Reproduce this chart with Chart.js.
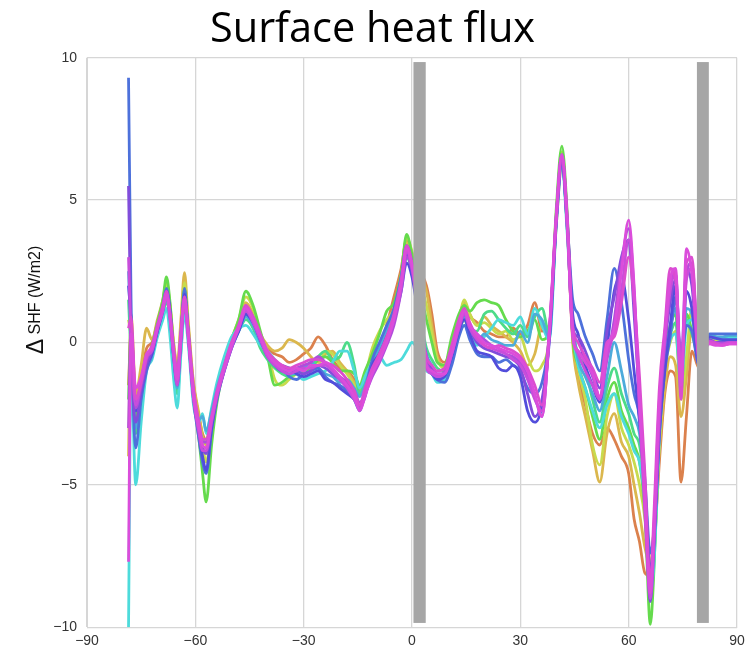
<!DOCTYPE html>
<html>
<head>
<meta charset="utf-8">
<script src="https://cdn.jsdelivr.net/npm/chart.js@4"></script>
<style>
  html, body { margin: 0; padding: 0; background: #fff; }
  #wrap { width: 745px; height: 656px; }
</style>
</head>
<body>
<div id="wrap"><canvas id="myChart"></canvas></div>
<script>
// latitude grid shared by all ensemble members
const latitude = [-78.5, -77.8, -76.5, -75, -73.5, -72, -70.5, -69, -68, -67, -66, -65, -64, -63, -62, -60.5, -59, -58, -57, -55.5,
  -54, -52, -50, -48, -46, -44, -42, -40, -38, -36, -34, -32, -30, -28, -26, -24, -22, -20, -18, -16,
  -14.5, -13, -11, -9, -7, -5, -3, -1.5, 0,
  4, 5.5, 7, 9, 11, 13, 14.5, 16, 18, 20, 22, 24, 26, 28, 30, 32, 34, 36, 38, 40,
  41.5, 43, 44.5, 46, 48, 50, 52, 54, 56, 58, 60, 61.5, 63, 64.5, 66, 67, 68.5, 70, 71.5, 73,
  74.5, 76, 77.5, 79.5, 82.5, 84, 86, 88, 90];

// delta SHF (W/m2), one array per member
const run01 = [-1.5, 0.4, -2.0, -1.2, -0.2, 0.0, 0.7, 1.4, 2.0, 1.2, -0.1, -0.9, 0.5, 2.0, 0.6, -1.5, -2.6, -3.2, -3.4, -2.5, -1.6, -0.8, 0.0, 0.6, 1.3, 1.0, 0.3, -0.2, -0.4, -0.5, -0.7, -0.6, -0.4, -0.2, 0.2, -0.1, -0.6, -0.9, -1.0, -1.3, -1.7, -1.4, -0.9, -0.3, 0.6, 1.6, 2.6, 3.6, 2.9,
  2.0, 1.0, -0.3, -0.7, -0.2, 0.6, 1.2, 0.9, 0.7, 0.4, 0.3, 0.2, 0.2, 0.5, 0.3, 0.6, 1.4, 0.4, 0.6, 4.2, 6.3, 4.0, 0.2, -1.2, -2.2, -3.2, -3.6, -3.0, -3.4, -4.0, -4.6, -6.2, -7.0, -8.1, -8.2, -7.2, -4.2, -1.8, -1.0, -1.2, -4.9, -2.6, -0.3, -0.9, 0.1, 0.05, 0.0, 0.05, 0.05];
const run02 = [-4.0, 1.0, -1.8, -0.8, 0.5, 0.1, 0.8, 1.5, 2.1, 1.3, 0.0, -0.8, 0.8, 2.45, 0.8, -1.4, -2.5, -3.3, -3.6, -2.6, -1.6, -0.7, 0.1, 0.7, 1.4, 1.0, 0.3, -0.1, -0.3, -0.2, 0.1, 0.0, -0.2, -0.5, -0.7, -0.4, -0.3, -0.7, -1.0, -1.4, -1.6, -1.3, -0.8, -0.5, 0.3, 1.2, 2.4, 3.5, 3.0,
  1.8, 0.6, -0.5, -0.8, 0.0, 0.9, 1.4, 1.0, 0.6, 0.9, 0.6, 0.4, 0.2, 0.0, -0.3, -0.8, -0.4, 0.6, 0.4, 4.4, 6.4, 4.1, 0.0, -1.4, -2.6, -3.8, -4.9, -3.2, -2.5, -3.5, -4.0, -5.0, -6.0, -7.2, -7.8, -6.5, -3.8, -1.6, -0.5, -0.8, -2.6, -1.2, 0.5, -0.7, 0.15, 0.1, 0.05, 0.1, 0.1];
const run03 = [0.8, 0.2, -2.2, -1.4, -0.5, -0.2, 0.6, 1.3, 2.0, 1.2, -0.2, -1.0, 0.4, 2.1, 0.6, -1.7, -2.9, -3.6, -4.2, -3.0, -1.9, -0.8, 0.1, 0.8, 1.6, 1.2, 0.3, -0.3, -1.3, -1.5, -1.3, -1.1, -1.0, -0.7, -0.8, -0.3, -0.4, -0.8, -1.1, -1.5, -1.8, -1.2, -0.2, 0.4, 0.8, 1.2, 2.3, 3.7, 3.2,
  1.3, 0.3, -0.6, -0.9, -0.2, 0.8, 1.5, 1.0, 0.6, 0.7, 0.5, 0.3, 0.4, 0.1, 0.2, -0.5, -1.0, -0.8, 0.2, 4.6, 6.7, 4.3, 0.3, -0.9, -2.0, -3.6, -4.3, -2.6, -1.8, -3.0, -3.6, -4.2, -5.0, -6.2, -8.5, -7.6, -3.6, -1.0, 0.0, 0.4, -2.0, -0.5, 1.2, -0.6, 0.2, 0.1, 0.05, 0.1, 0.1];
const run04 = [-2.0, 0.6, -2.6, -1.5, -0.6, -0.1, 0.7, 1.5, 2.3, 1.4, -0.2, -1.2, 0.3, 1.9, 0.5, -1.9, -3.4, -4.6, -5.6, -3.6, -2.1, -0.9, 0.1, 0.8, 1.8, 1.3, 0.4, -0.5, -1.5, -1.4, -1.2, -1.1, -1.0, -0.9, -0.6, -0.5, -0.7, -1.0, -1.0, -1.1, -1.5, -1.0, -0.4, 0.3, 1.1, 1.4, 2.4, 3.8, 3.1,
  0.8, 0.0, -0.7, -0.8, 0.2, 1.0, 1.3, 1.1, 1.4, 1.5, 1.4, 1.3, 0.8, 0.4, 0.2, 0.4, 0.8, 0.1, 0.4, 4.8, 6.9, 4.5, 0.2, -0.8, -1.6, -2.6, -3.4, -2.0, -1.4, -2.4, -3.0, -3.6, -4.2, -6.0, -9.9, -8.0, -3.0, -0.4, 0.6, 1.0, -1.8, 1.0, 0.4, -0.6, 0.2, 0.2, 0.1, 0.1, 0.1];
const run05 = [1.5, -0.5, -3.2, -1.8, -0.6, -0.4, 0.3, 0.9, 1.5, 0.7, -0.8, -1.8, -0.3, 1.2, 0.2, -2.0, -3.0, -3.4, -3.5, -2.6, -1.6, -0.7, 0.0, 0.4, 0.8, 0.5, -0.2, -0.6, -0.9, -1.1, -1.2, -1.0, -0.8, -0.9, -0.5, -0.3, -0.6, -0.5, 0.0, -0.8, -1.8, -1.3, -0.8, -0.3, 0.3, 1.0, 2.1, 3.0, 2.5,
  -0.2, -0.6, -0.9, -1.0, -0.4, 0.4, 0.8, 0.4, 0.4, 1.0, 1.1, 0.8, 0.5, 0.3, 0.6, 0.2, 0.9, 1.2, 0.3, 4.4, 6.4, 4.0, 0.6, -0.4, -0.9, -2.0, -2.8, -1.6, -0.9, -1.8, -2.5, -3.2, -3.6, -5.2, -8.2, -7.3, -2.8, -0.3, 0.3, 0.7, -1.0, 0.8, 0.3, -0.4, 0.25, 0.2, 0.15, 0.2, 0.2];
const run06 = [-10.0, -1.0, -5.0, -2.8, -1.0, -0.6, 0.2, 0.8, 1.2, 0.2, -1.3, -2.3, -0.4, 1.0, 0.0, -2.2, -2.8, -2.5, -3.2, -2.3, -1.4, -0.5, 0.2, 0.5, 0.6, 0.3, -0.1, -0.3, -0.6, -0.9, -1.0, -1.1, -1.3, -1.2, -1.1, -1.0, -0.7, -0.3, -0.3, -1.0, -1.6, -1.2, -0.7, -0.5, -0.8, -0.7, -0.6, -0.3, 0.0,
  -1.0, -1.1, -1.4, -1.3, -0.6, 0.3, 0.6, 0.2, -0.1, 0.2, 0.5, 0.8, 0.7, 0.6, 0.9, 0.3, 1.2, 0.6, 0.1, 4.2, 6.2, 3.8, 0.5, -0.8, -1.6, -2.4, -3.0, -2.2, -1.8, -2.6, -3.2, -3.8, -4.2, -5.6, -8.8, -7.8, -3.4, -0.8, 0.1, 0.3, -1.5, 0.6, 0.8, -0.5, 0.2, 0.15, 0.1, 0.15, 0.15];
const run07 = [2.5, 0.0, -3.0, -1.9, -0.9, -0.5, 0.4, 1.1, 1.6, 0.8, -0.6, -1.6, 0.0, 1.4, 0.3, -1.9, -2.7, -2.6, -3.1, -2.4, -1.6, -0.8, -0.1, 0.4, 0.9, 0.6, 0.0, -0.4, -0.8, -1.0, -1.1, -1.1, -0.9, -0.7, -0.9, -1.1, -1.2, -1.4, -1.3, -1.6, -1.9, -1.5, -0.7, -0.2, 0.4, 1.1, 2.3, 3.3, 2.7,
  -0.4, -0.8, -1.2, -1.2, -0.5, 0.5, 0.9, 0.5, 0.0, 0.3, 0.1, 0.0, -0.1, -0.1, 0.4, 0.0, 1.0, 0.8, 0.2, 4.5, 6.4, 4.0, 0.7, -0.6, -1.2, -1.8, -2.4, -1.2, 0.0, -1.0, -2.2, -2.6, -3.2, -5.0, -8.0, -7.2, -3.0, -0.6, 0.5, 1.2, -1.2, 1.2, 1.0, -0.6, 0.25, 0.2, 0.2, 0.25, 0.25];
const run08 = [9.3, 1.5, -3.7, -2.0, -1.0, -0.4, 0.5, 1.3, 1.9, 1.1, -0.5, -1.5, 0.1, 1.9, 0.4, -2.0, -3.4, -4.2, -4.6, -3.1, -2.0, -1.0, -0.2, 0.4, 1.0, 0.7, 0.1, -0.4, -0.8, -0.9, -1.2, -1.3, -1.1, -1.0, -0.9, -1.2, -1.4, -1.5, -1.7, -2.0, -2.4, -1.7, -0.6, 0.0, 0.6, 1.2, 2.3, 3.4, 2.8,
  -0.5, -1.0, -1.3, -1.4, -0.8, 0.2, 0.6, 0.1, -0.4, -0.5, -0.5, -0.7, -0.6, -0.8, -1.0, -1.6, -1.8, -1.4, 0.2, 4.4, 6.4, 4.2, 1.5, 1.0, 0.2, -0.4, -1.0, 0.8, 2.6, 1.4, -0.6, -1.8, -2.6, -4.8, -7.4, -6.6, -3.2, -1.0, 0.2, 1.6, -0.8, 0.6, 0.4, -0.8, 0.3, 0.3, 0.3, 0.3, 0.3];
const run09 = [2.0, 0.8, -2.4, -1.7, -0.8, -0.4, 0.4, 1.1, 1.8, 1.1, -0.4, -1.3, 0.2, 1.7, 0.4, -1.9, -3.2, -4.0, -4.5, -3.0, -1.9, -1.0, -0.2, 0.4, 1.0, 0.7, 0.1, -0.5, -0.8, -1.0, -0.9, -1.1, -1.2, -1.1, -1.0, -1.3, -1.4, -1.6, -1.8, -2.0, -2.3, -1.9, -0.8, -0.4, 0.2, 0.8, 1.8, 2.8, 2.3,
  -0.8, -1.1, -1.3, -1.2, -0.5, 0.4, 0.8, 0.3, -0.3, -0.4, -0.5, -0.9, -1.0, -0.8, -1.2, -2.4, -2.8, -2.2, 0.0, 4.3, 6.3, 4.1, 1.0, 0.3, -0.8, -1.5, -2.1, -0.2, 1.8, 2.3, 0.8, -1.0, -2.8, -5.2, -8.0, -7.0, -3.2, -1.0, 0.6, 2.0, -1.0, 1.8, 1.2, -0.8, 0.2, 0.15, 0.1, 0.1, 0.1];
const run10 = [5.5, 0.2, -2.8, -1.7, -0.8, -0.3, 0.4, 1.2, 1.7, 0.9, -0.5, -1.4, 0.1, 1.5, 0.3, -1.8, -3.0, -3.7, -3.9, -2.8, -1.8, -0.9, -0.1, 0.5, 1.1, 0.8, 0.2, -0.4, -0.7, -0.8, -0.9, -1.0, -1.1, -1.0, -0.8, -0.9, -1.1, -1.3, -1.5, -1.9, -2.3, -1.8, -1.0, -0.4, 0.2, 0.9, 2.0, 3.1, 2.5,
  -0.6, -0.9, -1.1, -1.1, -0.4, 0.5, 1.0, 0.5, 0.0, -0.2, -0.3, -0.4, -0.5, -0.6, -0.9, -1.8, -2.6, -2.0, 0.1, 4.5, 6.6, 4.3, 0.5, 0.2, -0.3, -1.0, -1.6, 0.4, 1.6, 3.0, 3.6, 1.0, -2.0, -5.4, -9.1, -7.2, -3.0, -0.2, 1.4, 2.2, -0.8, 2.6, 2.0, -0.7, 0.1, 0.0, 0.0, 0.0, 0.0];
const run11 = [-3.0, 0.6, -2.3, -1.5, -0.6, -0.2, 0.6, 1.2, 1.7, 1.0, -0.3, -1.2, 0.3, 1.6, 0.4, -1.7, -2.9, -3.5, -3.5, -2.7, -1.8, -0.9, -0.1, 0.6, 1.2, 0.9, 0.2, -0.4, -0.7, -0.9, -1.0, -0.9, -0.8, -0.7, -0.5, -0.7, -1.0, -1.2, -1.4, -1.7, -2.1, -1.8, -1.2, -0.7, -0.1, 0.6, 1.8, 3.0, 2.6,
  -0.7, -1.0, -1.2, -1.0, -0.2, 0.7, 1.1, 0.6, 0.3, 0.1, -0.1, -0.2, -0.4, -0.5, -0.7, -1.2, -1.9, -2.6, 0.3, 4.4, 6.5, 4.1, 0.3, -0.3, -0.6, -1.2, -1.9, -0.6, 0.8, 2.8, 4.0, 1.8, -2.2, -5.6, -8.6, -6.8, -2.6, 0.2, 2.2, 2.4, -1.3, 2.4, 2.8, -0.6, 0.0, -0.05, -0.05, 0.0, 0.0];
const run12 = [3.0, 0.1, -2.2, -1.3, -0.5, -0.3, 0.5, 1.2, 1.6, 0.8, -0.5, -1.5, 0.0, 1.4, 0.2, -2.0, -3.2, -3.8, -3.8, -2.8, -1.9, -1.0, -0.2, 0.5, 1.1, 0.7, 0.1, -0.5, -0.8, -1.0, -1.1, -1.0, -0.9, -0.9, -0.8, -0.8, -1.0, -1.3, -1.6, -2.0, -2.3, -1.8, -1.0, -0.5, 0.1, 0.9, 2.1, 3.2, 2.6,
  -0.9, -1.1, -1.2, -1.1, -0.4, 0.5, 1.0, 0.5, 0.1, -0.1, -0.2, -0.3, -0.4, -0.6, -0.8, -1.3, -2.0, -2.4, 0.2, 4.4, 6.5, 4.0, 0.3, -0.4, -1.0, -1.5, -2.0, -0.5, 0.4, 1.8, 3.6, 1.6, -2.4, -6.0, -9.0, -7.0, -2.4, 0.0, 1.8, 2.4, -1.0, 2.2, 2.6, -0.5, 0.05, 0.0, -0.05, 0.0, 0.0];
const run13 = [0.5, 0.9, -2.0, -1.4, -0.5, -0.1, 0.6, 1.3, 1.8, 1.0, -0.2, -1.0, 0.4, 1.6, 0.5, -1.6, -2.8, -3.4, -3.4, -2.6, -1.7, -0.8, 0.0, 0.6, 1.3, 0.9, 0.3, -0.3, -0.6, -0.8, -0.9, -0.8, -0.7, -0.6, -0.6, -0.7, -0.8, -1.0, -1.3, -1.7, -2.2, -1.6, -0.9, -0.4, 0.2, 1.0, 2.2, 3.4, 2.8,
  -0.5, -0.8, -1.0, -0.9, -0.1, 0.8, 1.2, 0.7, 0.2, -0.1, -0.2, -0.1, -0.2, -0.3, -0.5, -0.9, -1.5, -2.2, 0.4, 4.6, 6.6, 4.4, 0.6, 0.0, -0.5, -0.9, -1.4, 0.0, 0.2, 1.4, 3.0, 1.5, -1.2, -4.6, -8.5, -6.0, -1.6, 0.5, 2.6, 2.2, -2.0, 2.8, 3.0, -0.6, 0.0, -0.05, -0.1, -0.05, -0.05];
const run14 = [-7.7, 0.3, -1.6, -1.2, -0.4, -0.2, 0.5, 1.1, 1.7, 0.9, -0.4, -1.3, 0.2, 1.5, 0.3, -1.9, -3.0, -3.6, -3.7, -2.7, -1.8, -0.9, -0.1, 0.5, 1.2, 0.8, 0.2, -0.4, -0.7, -0.9, -1.0, -0.9, -1.0, -0.8, -0.8, -0.7, -0.9, -1.2, -1.5, -1.9, -2.4, -1.9, -1.1, -0.6, 0.0, 0.8, 2.0, 3.3, 2.7,
  -0.8, -1.0, -1.1, -1.1, -0.4, 0.6, 1.1, 0.6, 0.3, 0.0, -0.1, -0.2, -0.3, -0.4, -0.6, -1.0, -1.8, -2.6, 0.3, 4.5, 6.6, 4.2, 0.2, -0.3, -0.7, -1.1, -1.9, -0.2, 0.5, 2.5, 4.3, 2.0, -2.0, -5.5, -8.8, -6.5, -2.0, 0.3, 2.2, 2.6, -1.5, 3.3, 2.4, -0.4, -0.05, -0.1, -0.1, -0.05, -0.05];

const runs = [run01, run02, run03, run04, run05, run06, run07, run08, run09, run10, run11, run12, run13, run14];
const runHues = [22, 45, 68, 110, 145, 180, 200, 225, 242, 262, 282, 292, 305, 300];

// latitude bands masked in grey
const maskedBands = [[0.4, 3.8], [78.9, 82.2]];
const yTicks = [-10, -5, 0, 5, 10];
const xTicks = [-90, -60, -30, 0, 30, 60, 90];

const minus = v => (v < 0 ? '\u2212' + Math.abs(v) : '' + v);

const bandPlugin = {
  id: 'bands',
  afterDatasetsDraw(chart) {
    const {ctx, scales: {x, y}} = chart;
    ctx.save();
    ctx.fillStyle = '#a6a6a6';
    maskedBands.forEach(b => {
      const x0 = x.getPixelForValue(b[0]), x1 = x.getPixelForValue(b[1]);
      const y0 = y.getPixelForValue(9.85), y1 = y.getPixelForValue(-9.85);
      ctx.fillRect(x0, y0, x1 - x0, y1 - y0);
    });
    ctx.restore();
  }
};

// y label: big delta followed by smaller "SHF (W/m2)"
const yLabelPlugin = {
  id: 'ylabel',
  afterDraw(chart) {
    const c = chart.ctx;
    c.save();
    c.translate(36, 300);
    c.rotate(-Math.PI / 2);
    c.fillStyle = '#111';
    c.textBaseline = 'middle';
    c.font = '23px "Liberation Sans"';
    const dw = c.measureText('\u0394').width;
    c.font = '16px "Liberation Sans"';
    const tw = c.measureText(' SHF (W/m2)').width;
    let x0 = -(dw + tw) / 2;
    c.font = '23px "Liberation Sans"';
    c.fillText('\u0394', x0, 1);
    c.font = '16px "Liberation Sans"';
    c.fillText(' SHF (W/m2)', x0 + dw, 0);
    c.restore();
  }
};

window.addEventListener('load', function(){
  let ctx = document.getElementById('myChart');
  let datasets = runs.map((r, i) => ({
    data: latitude.map((lat, j) => ({x: lat, y: r[j]})),
    borderColor: `hsl(${runHues[i]}, 66%, 58%)`,
    borderWidth: 2.8,
    pointRadius: 0,
    cubicInterpolationMode: 'monotone',
    order: runs.length - i,
    fill: false
  }));

  new Chart(ctx, {
    type: 'line',
    data: { datasets: datasets },
    options: {
      responsive: true,
      maintainAspectRatio: false,
      animation: false,
      layout: { padding: { left: 0, right: 0, top: 0, bottom: 0 } },
      plugins: {
        legend: { display: false },
        tooltip: { enabled: false },
        title: {
          display: true,
          text: 'Surface heat flux',
          color: '#000',
          font: { family: 'Open Sans', size: 41.5, weight: 'normal' },
          padding: { top: 5, bottom: 3 }
        }
      },
      scales: {
        x: {
          type: 'linear',
          min: -90, max: 90,
          afterBuildTicks: s => { s.ticks = xTicks.map(v => ({value: v})); },
          afterFit: s => { s.paddingRight = 8; s.paddingLeft = 0; },
          ticks: { callback: minus, color: '#333', font: { family: 'Liberation Sans', size: 14 }, padding: 6, maxRotation: 0 },
          grid: { color: '#d6d6d6', lineWidth: 1.3, drawTicks: false },
          border: { color: '#d6d6d6' }
        },
        y: {
          min: -10, max: 10,
          afterBuildTicks: s => { s.ticks = yTicks.map(v => ({value: v})); },
          afterFit: s => { s.width = 87; },
          ticks: { callback: minus, color: '#333', font: { family: 'Liberation Sans', size: 14 }, padding: 10 },
          grid: { color: '#d6d6d6', lineWidth: 1.3, drawTicks: false },
          border: { color: '#d6d6d6' }
        }
      }
    },
    plugins: [bandPlugin, yLabelPlugin]
  });
});
</script>
</body>
</html>
